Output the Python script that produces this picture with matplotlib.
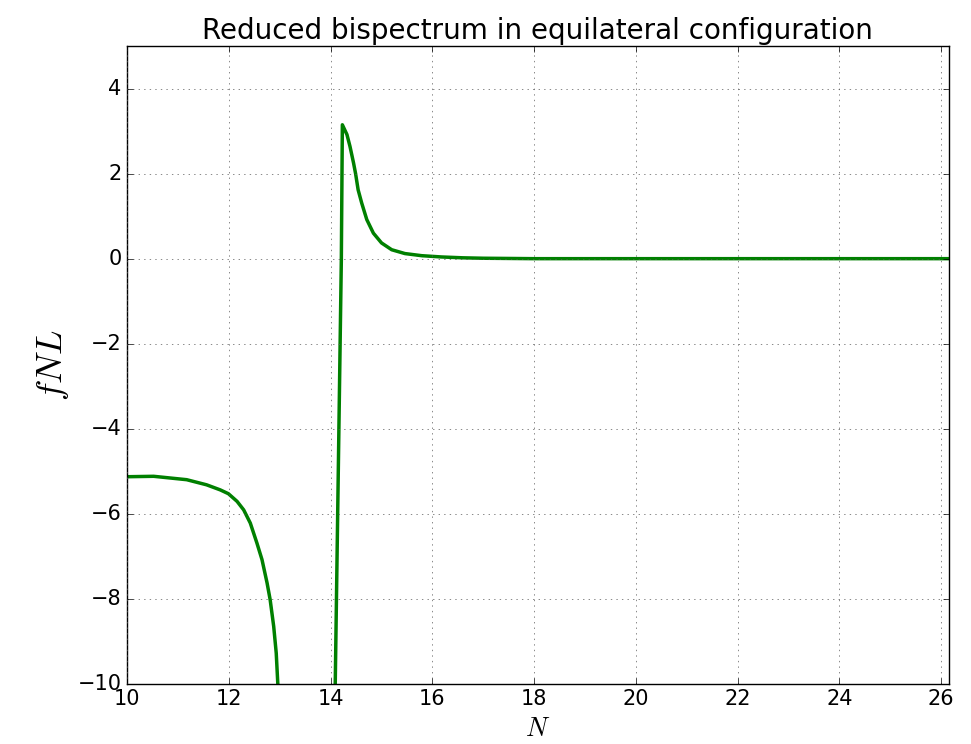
import matplotlib
matplotlib.use("Agg")
import matplotlib.pyplot as plt

plt.style.use('classic')

# e-folds N and reduced bispectrum fNL (equilateral)
N = [10.0, 10.52, 11.17, 11.56, 11.83, 11.99, 12.16, 12.29, 12.42, 12.55,
     12.65, 12.75, 12.81, 12.88, 12.93, 12.96, 13.02, 13.2, 13.6, 14.0,
     14.05, 14.09, 14.15, 14.21, 14.23, 14.32, 14.38, 14.45, 14.49, 14.54,
     14.61, 14.71, 14.84, 15.0, 15.2, 15.46, 15.79, 16.18, 16.6, 17.0,
     18.0, 20.0, 22.0, 24.0, 26.15]
fNL = [-5.13, -5.12, -5.20, -5.32, -5.44, -5.53, -5.71, -5.91, -6.22, -6.69,
       -7.08, -7.63, -8.02, -8.65, -9.28, -9.98, -11.0, -16.0, -60.0, -18.0,
       -13.0, -10.0, -5.0, 0.0, 3.15, 2.92, 2.64, 2.25, 2.0, 1.62,
       1.31, 0.92, 0.60, 0.37, 0.21, 0.12, 0.07, 0.04, 0.02, 0.01,
       0.0, 0.0, 0.0, 0.0, 0.0]

fig = plt.figure(figsize=(9.71, 7.44), dpi=100, facecolor='white')
ax = fig.add_axes([0.131, 0.081, 0.846, 0.857])
ax.plot(N, fNL, color='g', linewidth=2.5)

ax.set_xlim(10, 26.15)
ax.set_ylim(-10, 5)
ax.set_xticks(range(10, 27, 2))
ax.set_yticks(range(-10, 5, 2))
ax.tick_params(labelsize=15)
ax.grid(True, color='0.35')

ax.set_title('Reduced bispectrum in equilateral configuration', fontsize=20)
ax.set_xlabel('$N$', fontsize=19)
ax.set_ylabel('$fNL$', fontsize=26)

fig.savefig('out.png', dpi=100, facecolor='white')
